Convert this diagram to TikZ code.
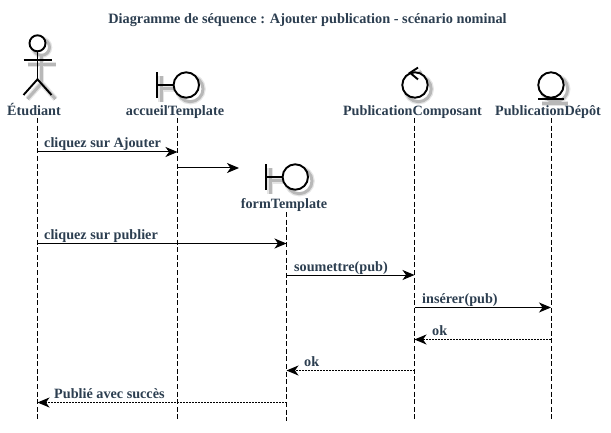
\documentclass[tikz,border=0pt]{standalone}
\usepackage{fontspec}
\setmainfont{Liberation Serif}
\usetikzlibrary{arrows.meta}
\definecolor{texte}{HTML}{2C3E50}
\tikzset{
    titre/.style={font=\bfseries\fontsize{14.3}{16}\selectfont, text=texte, inner sep=0pt},
    nom/.style={font=\bfseries\fontsize{14.2}{16}\selectfont, text=texte, inner sep=0pt, anchor=base},
    msg/.style={font=\bfseries\fontsize{14.2}{16}\selectfont, text=texte, inner sep=0pt, anchor=base west},
    vie/.style={line width=0.9pt, dash pattern=on 5pt off 2.6pt},
    appel/.style={line width=1pt, -{Stealth[length=12pt,width=10pt,inset=3.5pt]}},
    retour/.style={line width=0.9pt, dash pattern=on 2pt off 1pt, -{Stealth[length=12pt,width=10pt,inset=3.5pt,line width=1pt]}},
    figure/.style={line width=1.9pt, draw=black},
    ombrelarge/.style={line width=5.5pt, draw=black!10},
    ombre/.style={line width=3pt, draw=black!28},
    acteur/.pic={
        \draw[pic actions, fill=white] (0,36) circle (8);
        \draw[pic actions] (0,28) -- (0,0);
        \draw[pic actions] (-14,19) -- (14,19);
        \draw[pic actions] (-14,-15.7) -- (0,0) -- (14,-15.7);
    },
    frontiere/.pic={
        \draw[pic actions, fill=white] (8.8,0) circle (12.7);
        \draw[pic actions] (-20.5,0) -- (-3.9,0);
        \draw[pic actions] (-20.5,-12.6) -- (-20.5,12.6);
    },
    controle/.pic={
        \draw[pic actions, fill=white] (0,0) circle (12.7);
        \draw[pic actions] (3,5.6) -- (-5,12.2) -- (3,17.4);
    },
    entite/.pic={
        \draw[pic actions, fill=white] (0,0) circle (12.7);
        \draw[pic actions] (-13,-14.3) -- (13,-14.3);
    },
}
\begin{document}
\begin{tikzpicture}[x=1pt, y=1pt]
    \useasboundingbox (0,0) rectangle (611,432);

    % Points on the lifelines
    \foreach \n/\x in {etu/37.5, acc/177.5, form/286.5, comp/414.5, dep/551} {
        \foreach \r/\y in {haut/314, bas/11, a/280, b/264, c/188.5, d/157, e/124.5, f/92.5, g/61.5, h/29.5} {
            \coordinate (\n\r) at (\x,\y);
        }
    }
    \coordinate (formvie) at (286.5,220);
    \coordinate (creation) at (239,264);

    % Title
    \node[titre] (titre) at (307.5,412) {Diagramme de séquence : Ajouter publication - scénario nominal};

    % Shadows
    \foreach \s in {ombrelarge, ombre} {
        \pic[\s] at (41.5,348.7) {acteur};
        \pic[\s] at (181.5,343) {frontiere};
        \pic[\s] at (290.5,251) {frontiere};
        \pic[\s] at (418.5,343) {controle};
        \pic[\s] at (555,343) {entite};
    }

    % Figures
    \pic[figure] at (37.5,352.7) {acteur};
    \pic[figure] at (177.5,347) {frontiere};
    \pic[figure] at (286.5,255) {frontiere};
    \pic[figure] at (415,347) {controle};
    \pic[figure] at (551,347) {entite};

    % Names
    \node[nom] (etudiant) at (34,316) {Étudiant};
    \node[nom] (accueil) at (175,316) {accueilTemplate};
    \node[nom] (formt) at (284,224) {formTemplate};
    \node[nom] (composant) at (412.5,316) {PublicationComposant};
    \node[nom] (depot) at (548,316) {PublicationDépôt};

    % Lifelines
    \draw[vie] (etuhaut) -- (etubas);
    \draw[vie] (acchaut) -- (accbas);
    \draw[vie] (formvie) -- (formbas);
    \draw[vie] (comphaut) -- (compbas);
    \draw[vie] (dephaut) -- (depbas);

    % Messages
    \draw[appel] (etua) -- (acca);
    \node[msg] (m1) at (44,284) {cliquez sur Ajouter};
    \draw[appel] (accb) -- (creation);
    \draw[appel] (etuc) -- (formc);
    \node[msg] (m2) at (44,192.5) {cliquez sur publier};
    \draw[appel] (formd) -- (compd);
    \node[msg] (m3) at (294,161) {soumettre(pub)};
    \draw[appel] (compe) -- (depe);
    \node[msg] (m4) at (422,128.5) {insérer(pub)};
    \draw[retour] (depf) -- (compf);
    \node[msg] (m5) at (432,96.5) {ok};
    \draw[retour] (compg) -- (formg);
    \node[msg] (m6) at (304,65.5) {ok};
    \draw[retour] (formh) -- (etuh);
    \node[msg] (m7) at (54,33.5) {Publié avec succès};
\end{tikzpicture}
\end{document}
